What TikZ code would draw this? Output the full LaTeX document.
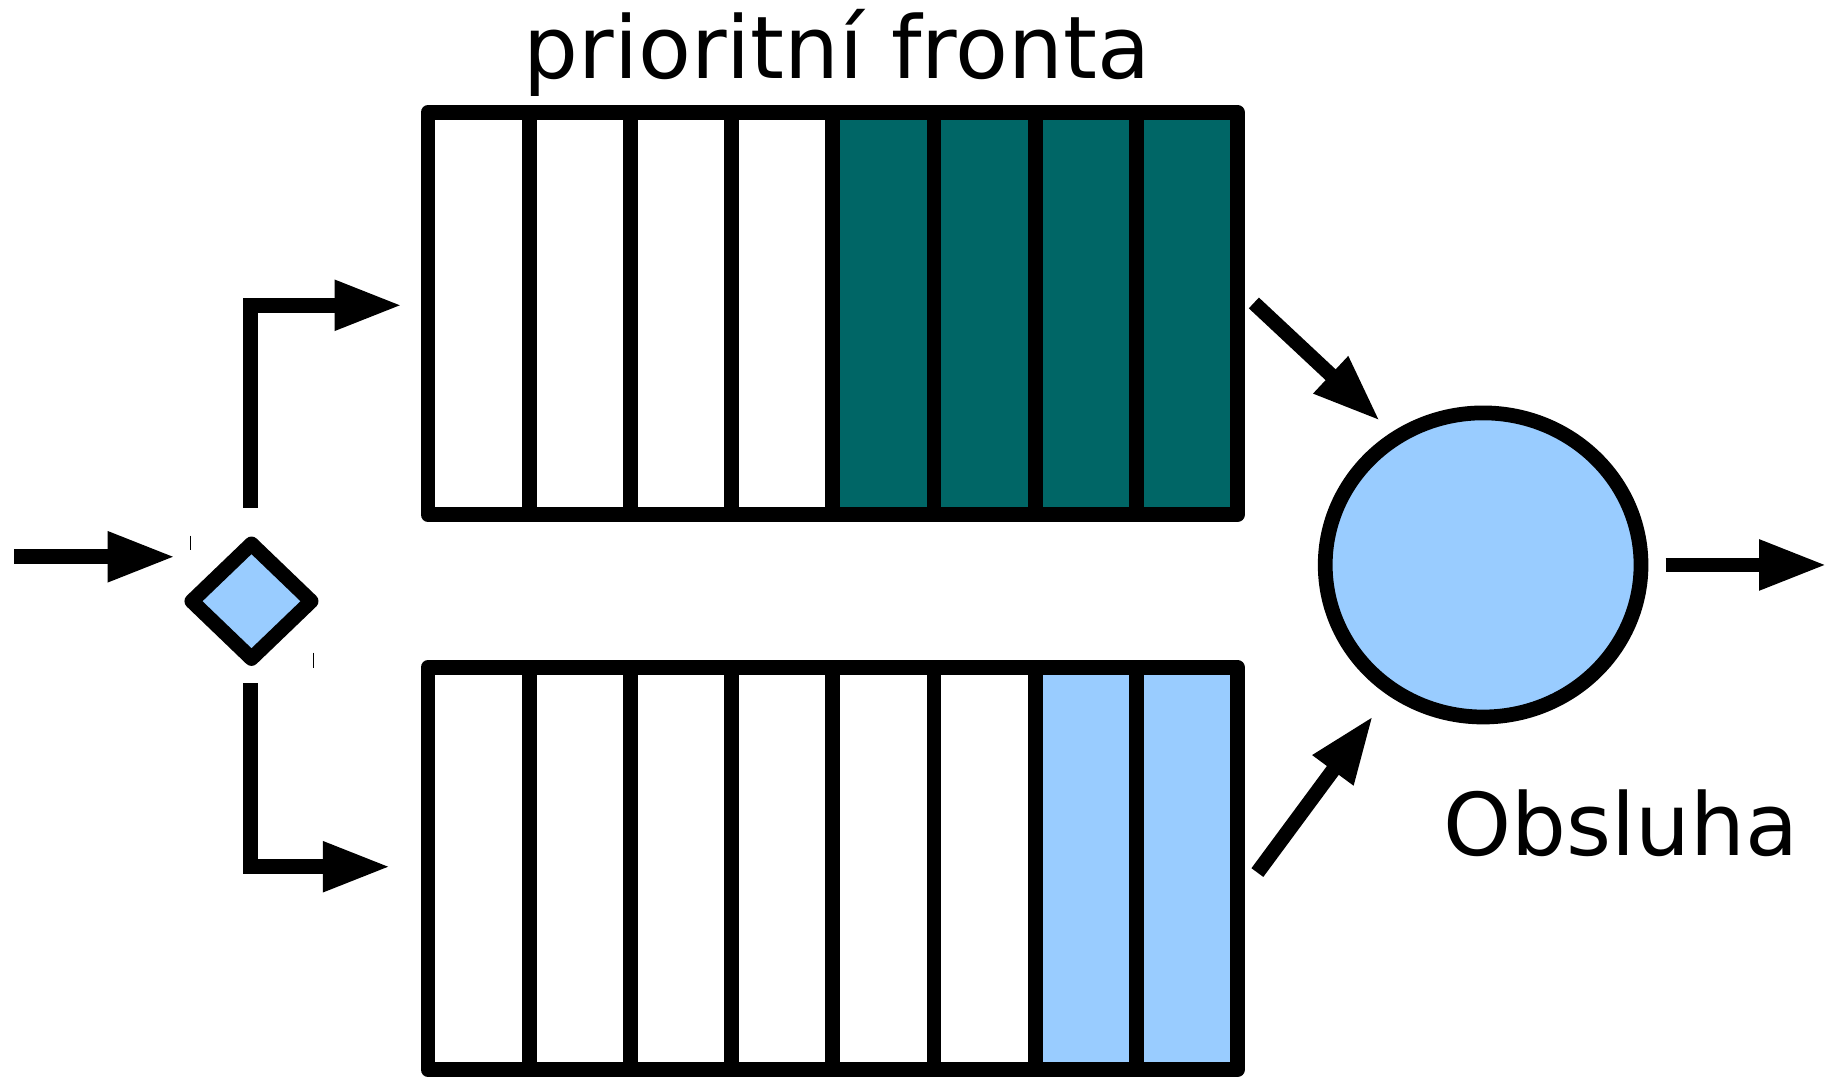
\documentclass[tikz,border=0pt]{standalone}
\usepackage{fontspec}
\setmainfont{DejaVu Sans}
\usetikzlibrary{arrows.meta,shapes.geometric,positioning}

\definecolor{qteal}{HTML}{006666}
\definecolor{qblue}{HTML}{99CCFF}

\tikzset{
  cell/.style={draw,line width=6.3pt,line join=round,minimum width=43.25pt,
    minimum height=172pt,inner sep=0pt,outer sep=0pt},
  flow/.style={line width=6.3pt,-{Triangle[length=29pt,width=20pt]}},
  title/.style={font=\fontsize{37}{44}\selectfont,inner sep=0pt}
}

\begin{document}
\begin{tikzpicture}[x=0.5pt,y=-0.5pt]
  \useasboundingbox (0,0) rectangle (1568,923);

  % high priority queue
  \foreach \i in {1,...,4}
    \node[cell] (top\i) at ({366+86.5*(\i-0.5)},268) {};
  \foreach \i in {5,...,8}
    \node[cell,fill=qteal] (top\i) at ({366+86.5*(\i-0.5)},268) {};

  % low priority queue
  \foreach \i in {1,...,6}
    \node[cell] (bot\i) at ({366+86.5*(\i-0.5)},742.5) {};
  \foreach \i in {7,8}
    \node[cell,fill=qblue] (bot\i) at ({366+86.5*(\i-0.5)},742.5) {};

  % classifier and server
  \node[diamond,draw,fill=qblue,line width=6.3pt,line join=round,
    minimum width=51pt,minimum height=49pt,inner sep=0pt,outer sep=0pt]
    (split) at (215,514) {};
  \node[ellipse,draw,fill=qblue,line width=6.3pt,minimum width=135pt,
    minimum height=130pt,inner sep=0pt] (server) at (1268,483) {};

  \node[title,anchor=base] (qname) at (715.5,67) {prioritní fronta};
  \node[title,anchor=base] (sname) at (1386,731) {Obsluha};

  % arrows
  \coordinate (in0) at (12,476);
  \coordinate (in1) at (150,476);
  \coordinate (up0) at (214,434);
  \coordinate (up1) at (344,261);
  \coordinate (dn0) at (214,584);
  \coordinate (dn1) at (334,741);
  \coordinate (hi0) at (1072,259);
  \coordinate (hi1) at (1180,360);
  \coordinate (lo0) at (1075,746);
  \coordinate (lo1) at (1174,612);
  \coordinate (out0) at (1424,483);
  \coordinate (out1) at (1562,483);

  \draw[flow] (in0) -- (in1);
  \draw[flow] (up0) |- (up1);
  \draw[flow] (dn0) |- (dn1);
  \draw[flow] (hi0) -- (hi1);
  \draw[flow] (lo0) -- (lo1);
  \draw[flow] (out0) -- (out1);

  % port ticks
  \draw[line width=0.6pt] (163,458) -- (163,470);
  \draw[line width=0.6pt] (268,558) -- (268,571);
\end{tikzpicture}
\end{document}
